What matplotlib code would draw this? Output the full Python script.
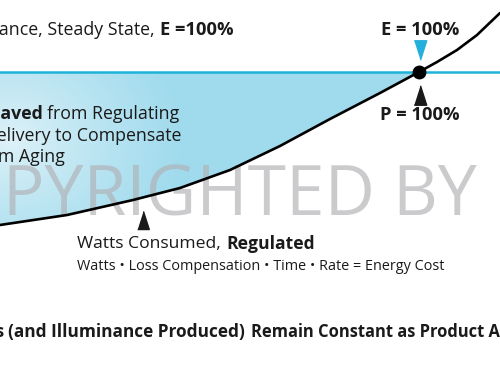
import numpy as np
import matplotlib.pyplot as plt

plt.rcParams['font.family'] = ['Open Sans', 'DejaVu Sans']

# --- diagram is drawn in the pixel space of the cropped picture (x right, y down)

# watts consumed (regulated) curve
curve_x = [0, 67, 133, 180, 230, 280, 330, 380, 419, 437, 457, 477, 500]
curve_y = [225, 215, 200, 188, 170, 146, 119, 93, 72, 62, 50, 35, 13]

# steady state level, E = 100%
steady_y = 72
cross_x = 419

# markers
dot = (419, 72)
e_arrow = (420, 50)
p_arrow = (420, 95)
w_arrow = (143, 220)

cyan = '#1db3d9'
fill_light = np.array([0.88, 0.95, 0.975])
fill_dark = np.array([0.63, 0.86, 0.93])

fig = plt.figure(figsize=(5, 3.75), dpi=100)
ax = fig.add_axes((0, 0, 1, 1))
ax.set_xlim(0, 500)
ax.set_ylim(375, 0)
ax.axis('off')

# --- saved energy region, gradient clipped to the area between line and curve
cx = np.array(curve_x, dtype=float)
cy = np.array(curve_y, dtype=float)
region = ax.fill_between(cx, steady_y, cy, where=cx <= cross_x, interpolate=True,
                         facecolor='none', edgecolor='none')
gx, gy = np.meshgrid(np.linspace(0, 500, 500), np.linspace(0, 375, 375))
t = np.clip(np.hypot(gx - 10, (gy - 140) * 1.2) / 170, 0, 1) ** 0.8
img = fill_light[None, None, :] * (1 - t[..., None]) + fill_dark[None, None, :] * t[..., None]
im = ax.imshow(img, extent=(0, 500, 375, 0), zorder=1, aspect='auto')
im.set_clip_path(region.get_paths()[0], transform=ax.transData)

ax.axhline(steady_y, color=cyan, lw=1.8, zorder=2)

# watermark
ax.text(477, 215, 'COPYRIGHTED BY', ha='right', va='baseline', fontsize=50,
        color='#b0b0b4', alpha=0.65, zorder=3)

ax.plot(curve_x, curve_y, color='black', lw=1.9, zorder=4, solid_capstyle='round')
ax.plot(*dot, 'o', color='black', ms=9, zorder=5)

tri_down = [(-0.32, 0.5), (0.32, 0.5), (0, -0.5)]
tri_up = [(-0.32, -0.5), (0.32, -0.5), (0, 0.5)]
ax.plot(*e_arrow, marker=tri_down, color='#25b0dc', ms=14, ls='none', zorder=5)
ax.plot(*p_arrow, marker=tri_up, color='#1a1a1a', ms=14, ls='none', zorder=5)
ax.plot(*w_arrow, marker=tri_up, color='#1a1a1a', ms=13, ls='none', zorder=5)

# --- labels
txt = dict(color='#1a1a1a', zorder=6, va='center')
ax.text(155, 30, 'Illuminance, Steady State,', ha='right', fontsize=12.8, **txt)
ax.text(160, 30, 'E =100%', ha='left', fontsize=13.2, fontweight='bold', **txt)
ax.text(420, 30, 'E = 100%', ha='center', fontsize=13.2, fontweight='bold', **txt)
ax.text(420, 115, 'P = 100%', ha='center', fontsize=13.2, fontweight='bold', **txt)

ax.text(43, 114, 'Watts Saved', ha='right', fontsize=12.8, fontweight='bold', **txt)
ax.text(47, 114, 'from Regulating', ha='left', fontsize=12.8, **txt)
ax.text(181, 136, 'Power Delivery to Compensate', ha='right', fontsize=12.8, **txt)
ax.text(65, 157, 'for System Aging', ha='right', fontsize=12.8, **txt)

ax.text(77, 244, 'Watts Consumed,', ha='left', fontsize=12.6, **txt)
ax.text(226, 244, 'Regulated', ha='left', fontsize=12.6, fontweight='bold', **txt)
ax.text(77, 266, 'Watts \u2022 Loss Compensation \u2022 Time \u2022 Rate = Energy Cost',
        ha='left', fontsize=10.4, **txt)

ax.text(5, 332, 'Lumens', ha='right', fontsize=12.4, fontweight='bold', **txt)
ax.text(8, 332, '(and Illuminance Produced)', ha='left', fontsize=12.4,
        fontweight='bold', **txt)
ax.text(251, 332, 'Remain Constant as Product Ages', ha='left', fontsize=11.9,
        fontweight='bold', **txt)

fig.savefig('out.png', dpi=100, facecolor='white')
